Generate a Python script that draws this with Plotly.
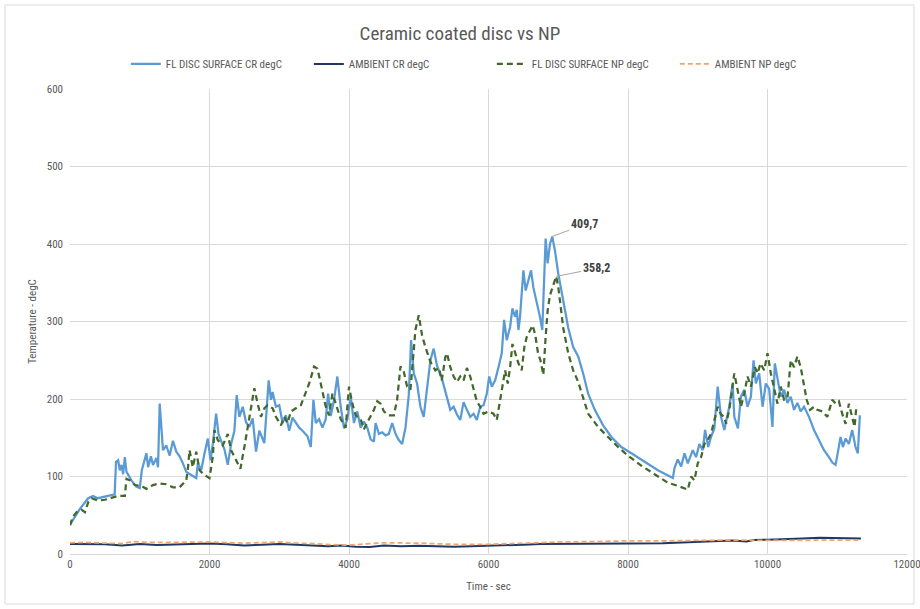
import plotly.graph_objects as go

# ---------------- data ----------------
cr_t = [0, 50, 140, 260, 330, 400, 500, 600, 640, 660, 690, 714, 738, 762, 786, 810, 880, 950, 1000,
        1030, 1095, 1120, 1160, 1190, 1240, 1262, 1286, 1333, 1381, 1429, 1476, 1524, 1571, 1619, 1667,
        1738, 1810, 1833, 1881, 1929, 1976, 2014, 2048, 2095, 2129, 2167, 2214, 2262, 2310, 2357, 2390,
        2429, 2476, 2524, 2571, 2619, 2667, 2714, 2786, 2848, 2881, 2905, 2952, 3000, 3048, 3095, 3143,
        3190, 3238, 3286, 3333, 3405, 3452, 3490, 3524, 3571, 3619, 3667, 3700, 3738, 3786, 3833, 3881,
        3929, 3976, 4024, 4071, 4119, 4167, 4214, 4262, 4310, 4357, 4381, 4429, 4476, 4524, 4571, 4619,
        4667, 4714, 4762, 4810, 4857, 4890, 4929, 4976, 5024, 5071, 5119, 5167, 5214, 5262, 5333, 5405,
        5452, 5500, 5548, 5595, 5643, 5690, 5738, 5786, 5833, 5881, 5929, 5976, 6010, 6048, 6095, 6143,
        6190, 6224, 6262, 6310, 6343, 6381, 6405, 6429, 6452, 6500, 6533, 6571, 6610, 6643, 6690, 6738,
        6771, 6800, 6819, 6848, 6881, 6914, 6952, 7000, 7071, 7143, 7214, 7286, 7357, 7429, 7524, 7643,
        7762, 7905, 8048, 8238, 8429, 8643, 8667, 8714, 8762, 8810, 8857, 8929, 8976, 9024, 9071, 9105,
        9150, 9190, 9238, 9286, 9333, 9381, 9429, 9452, 9500, 9524, 9576, 9619, 9667, 9714, 9762, 9800,
        9833, 9881, 9929, 9976, 10024, 10071, 10105, 10143, 10190, 10238, 10286, 10333, 10381, 10429,
        10476, 10524, 10595, 10667, 10738, 10810, 10881, 10929, 10976, 11010, 11048, 11081, 11119, 11167,
        11214, 11262, 11295, 11324]
cr_T = [38, 45, 58, 72, 75, 72, 74, 76, 77, 119, 121, 108, 115, 103, 125, 106, 95, 87, 85,
        108, 130, 112, 126, 115, 124, 112, 194, 134, 140, 127, 146, 132, 126, 117, 106,
        102, 98, 117, 108, 130, 149, 121, 142, 181, 155, 146, 135, 115, 142, 159, 205,
        177, 190, 170, 164, 175, 132, 159, 143, 224, 199, 209, 190, 192, 169, 179, 159,
        176, 169, 163, 159, 152, 138, 199, 169, 174, 163, 174, 207, 178, 199, 229, 190,
        162, 174, 203, 169, 184, 163, 171, 163, 148, 145, 169, 155, 157, 153, 155, 169,
        155, 147, 142, 163, 205, 276, 233, 220, 190, 177, 212, 250, 265, 243, 226, 200,
        186, 190, 180, 173, 196, 186, 177, 181, 173, 190, 192, 207, 229, 216, 224, 241,
        259, 302, 276, 293, 317, 306, 315, 289, 306, 366, 340, 353, 366, 344, 327, 306,
        289, 379, 407, 375, 400, 409.7, 392, 362, 327, 292, 267, 255, 233, 207, 186, 166,
        151, 138, 130, 119, 108, 98, 111, 122, 113, 130, 117, 134, 125, 142, 134, 160,
        138, 151, 162, 216, 177, 160, 179, 190, 220, 177, 162, 203, 212, 190, 203, 250,
        220, 233, 190, 220, 213, 164, 246, 224, 203, 212, 195, 203, 186, 195,
        184, 190, 177, 160, 147, 134, 125, 118, 115, 130, 151, 138, 149, 142,
        160, 138, 130, 179]

np_t = [0, 40, 95, 167, 214, 262, 310, 405, 500, 595, 690, 786, 810, 860, 929, 1020, 1095, 1190, 1286,
        1380, 1476, 1570, 1619, 1667, 1690, 1714, 1760, 1810, 1857, 1929, 2000, 2048, 2071, 2119, 2190,
        2262, 2310, 2381, 2443, 2500, 2557, 2595, 2643, 2690, 2738, 2786, 2833, 2905, 2952, 3024, 3071,
        3119, 3167, 3238, 3310, 3357, 3429, 3500, 3548, 3595, 3667, 3714, 3762, 3810, 3881, 3952, 4000,
        4048, 4095, 4167, 4214, 4286, 4357, 4405, 4452, 4500, 4571, 4643, 4690, 4738, 4786, 4833, 4881,
        4952, 5000, 5048, 5095, 5167, 5238, 5290, 5330, 5381, 5405, 5452, 5500, 5548, 5595, 5643, 5690,
        5738, 5786, 5833, 5881, 5929, 6000, 6071, 6119, 6167, 6214, 6238, 6276, 6310, 6343, 6381, 6429,
        6476, 6514, 6548, 6600, 6633, 6670, 6710, 6745, 6786, 6819, 6848, 6881, 6914, 6970, 7000, 7030,
        7071, 7143, 7214, 7286, 7357, 7429, 7571, 7714, 7857, 8000, 8190, 8381, 8571, 8714, 8857, 8905,
        8952, 9000, 9048, 9095, 9143, 9190, 9238, 9286, 9333, 9381, 9405, 9452, 9524, 9571, 9619, 9667,
        9714, 9762, 9819, 9857, 9900, 9952, 10000, 10048, 10095, 10143, 10190, 10238, 10286, 10333,
        10381, 10429, 10476, 10514, 10562, 10610, 10667, 10714, 10786, 10857, 10929, 10976, 11024, 11071,
        11119, 11167, 11214, 11248, 11276]
np_T = [37, 48, 54, 57, 54, 67, 72, 69, 70, 73, 75, 75, 97, 95, 89, 88, 84, 89, 91,
        90, 86, 86, 91, 95, 110, 134, 112, 132, 108, 102, 98, 126, 160, 147, 140,
        155, 134, 121, 110, 138, 168, 186, 214, 194, 177, 188, 192, 188, 177, 166, 177,
        169, 184, 188, 192, 203, 220, 242, 239, 220, 190, 179, 207, 194, 174, 163, 216,
        194, 179, 174, 161, 174, 186, 197, 194, 184, 179, 179, 199, 242, 235, 216, 212,
        289, 308, 282, 267, 248, 237, 240, 224, 254, 259, 241, 229, 222, 229, 224, 240,
        229, 212, 197, 190, 181, 184, 181, 173, 199, 224, 237, 220, 241, 271, 259, 246,
        237, 267, 280, 289, 295, 283, 259, 250, 231, 280, 314, 334, 344, 358.2, 345, 325,
        292, 259, 237, 222, 203, 181, 164, 151, 138, 127, 114, 103, 92, 88, 83, 100,
        95, 117, 125, 142, 147, 155, 173, 190, 180, 177, 168, 186, 233, 212, 190, 207,
        229, 216, 241, 233, 246, 237, 259, 233, 212, 194, 216, 199, 201, 250,
        241, 255, 241, 220, 199, 186, 190, 186, 184, 177, 199, 194, 197, 181,
        168, 194, 177, 164, 192]

amb_cr_t = [0, 250, 500, 750, 900, 1000, 1250, 1500, 1750, 2000, 2250, 2500, 2750, 3000, 3250, 3500,
            3700, 3900, 4100, 4300, 4500, 4750, 5000, 5250, 5500, 5750, 6000, 6250, 6500, 6750, 7000,
            7500, 8000, 8500, 8800, 9000, 9250, 9500, 9700, 9800, 10000, 10250, 10500, 10750, 11000, 11340]
amb_cr_T = [13, 13, 12.5, 11, 12, 13, 11.5, 12, 13, 13.5, 12.5, 11, 12, 13, 12, 10.5,
            10, 11, 9.5, 9, 11, 10, 10.5, 10, 9.5, 10, 10.5, 11.5, 12, 13, 13,
            13.5, 13.5, 14, 15, 16, 17, 17.5, 16, 18, 18.5, 19, 20, 21, 20.5, 20]

amb_np_t = [0, 250, 500, 750, 900, 1100, 1500, 2000, 2500, 3000, 3250, 3500, 3750, 4000, 4250, 4500,
            5000, 5500, 6000, 6500, 7000, 7500, 8000, 8500, 9000, 9500, 10000, 10500, 11000, 11340]
amb_np_T = [14.5, 15, 14, 13.5, 16, 15, 15, 15.5, 14, 15.5, 14, 13.5, 12, 11.5, 13, 14.5,
            14, 12.5, 12.5, 14, 15.5, 16, 17, 17, 17.5, 18, 17.5, 18, 18, 18]

x_ticks = [0, 2000, 4000, 6000, 8000, 10000, 12000]
x_tick_labels = ["0", "2000", "4000", "6000", "8000", "10000", "12000"]
y_ticks = [0, 100, 200, 300, 400, 500, 600]
y_tick_labels = ["0", "100", "200", "300", "400", "500", "600"]

# labelled peaks
cr_peak = max(cr_T)
cr_peak_t = cr_t[cr_T.index(cr_peak)]
np_peak = max(np_T)
np_peak_t = np_t[np_T.index(np_peak)]

FONT = "Liberation Sans Narrow, Roboto Condensed, Arial Narrow, Roboto, sans-serif"
GRAY = "#595959"

fig = go.Figure()
fig.add_trace(go.Scatter(x=cr_t, y=cr_T, mode="lines", name="FL DISC SURFACE CR degC",
                         line=dict(color="#5B9BD5", width=2.25)))
fig.add_trace(go.Scatter(x=amb_cr_t, y=amb_cr_T, mode="lines", name="AMBIENT CR degC",
                         line=dict(color="#203864", width=2)))
fig.add_trace(go.Scatter(x=np_t, y=np_T, mode="lines", name="FL DISC SURFACE NP degC",
                         line=dict(color="#43682B", width=2.25, dash="6px,4px")))
fig.add_trace(go.Scatter(x=amb_np_t, y=amb_np_T, mode="lines", name="AMBIENT NP degC",
                         line=dict(color="#F4A46A", width=1.75, dash="5px,3px")))

fig.add_annotation(x=cr_peak_t, y=cr_peak, text="<b>%s</b>" % f"{cr_peak:.1f}".replace(".", ","),
                   showarrow=True, arrowhead=0, arrowwidth=1, arrowcolor="#A6A6A6",
                   ax=32, ay=-12, font=dict(family=FONT, size=12, color="#404040"))
fig.add_annotation(x=np_peak_t, y=np_peak, text="<b>%s</b>" % f"{np_peak:.1f}".replace(".", ","),
                   showarrow=True, arrowhead=0, arrowwidth=1, arrowcolor="#A6A6A6",
                   ax=40, ay=-8, font=dict(family=FONT, size=12, color="#404040"))

# chart border
fig.add_shape(type="rect", xref="paper", yref="paper",
              x0=(5 - 70) / 837, x1=(914 - 70) / 837, y0=(554 - 604) / 465, y1=(554 - 5) / 465,
              line=dict(color="#D9D9D9", width=1), fillcolor="rgba(0,0,0,0)", layer="below")

fig.update_layout(
    width=920, height=609,
    margin=dict(l=70, r=13, t=89, b=55, autoexpand=False),
    paper_bgcolor="white", plot_bgcolor="white",
    font=dict(family=FONT, color=GRAY, size=11),
    title=dict(text="Ceramic coated disc vs NP", x=0.5, xanchor="center", y=0.945, yanchor="middle",
               font=dict(family=FONT, size=19, color=GRAY)),
    legend=dict(orientation="h", x=0.504, xanchor="center", y=1.054, yanchor="middle",
                font=dict(family=FONT, size=11, color=GRAY), bgcolor="rgba(0,0,0,0)",
                tracegroupgap=0, itemwidth=30, entrywidth=138, entrywidthmode="pixels"),
    showlegend=True,
)
fig.update_xaxes(range=[0, 12000], tickvals=x_ticks, ticktext=x_tick_labels, automargin=False,
                 ticklabeloverflow="allow",
                 showgrid=True, gridcolor="#D9D9D9", gridwidth=1,
                 showline=True, linecolor="#D9D9D9", linewidth=1, zeroline=False, ticks="",
                 tickfont=dict(family=FONT, size=11, color=GRAY),
                 title=dict(text="Time - sec", font=dict(family=FONT, size=11, color=GRAY), standoff=12))
fig.update_yaxes(range=[0, 600], tickvals=y_ticks, ticktext=y_tick_labels, automargin=False,
                 showgrid=True, gridcolor="#D9D9D9", gridwidth=1,
                 showline=False, zeroline=False, ticks="", ticklabelstandoff=6,
                 tickfont=dict(family=FONT, size=11, color=GRAY),
                 title=dict(text="Temperature - degC", font=dict(family=FONT, size=11, color=GRAY), standoff=7))

fig.write_html("out.html", config={"displayModeBar": False},
               post_script="document.body.style.margin='0';")
